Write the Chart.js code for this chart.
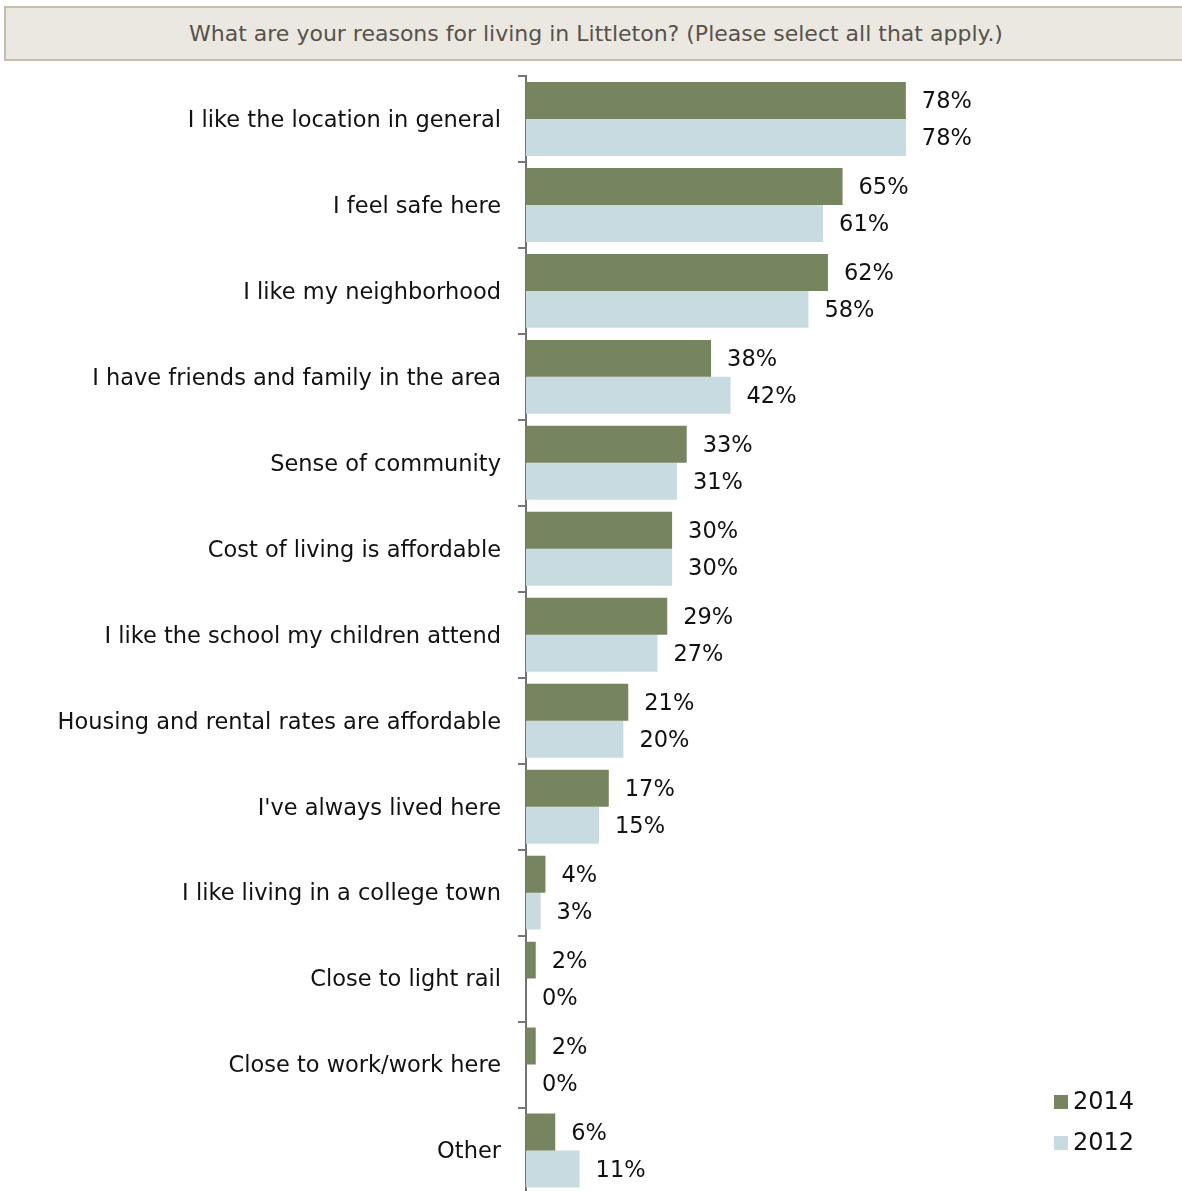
<!DOCTYPE html>
<html>
<head>
<meta charset="utf-8">
<script src="https://cdn.jsdelivr.net/npm/chart.js@4/dist/chart.umd.min.js"></script>
<style>
  html, body { margin: 0; padding: 0; background: #fff; overflow: hidden; }
  body { width: 1182px; height: 1191px; position: relative; }
  #title {
    position: absolute; left: 4px; top: 6px; width: 1180px; height: 51px;
    background: #ebe8e1; border: 2px solid #c6bfae; box-sizing: content-box;
    font-family: "DejaVu Sans", sans-serif; font-size: 22px; color: #57524a;
    line-height: 51px; text-align: center; white-space: nowrap;
  }
  #c { position: absolute; left: 0; top: 0; }
</style>
</head>
<body>
<canvas id="c" width="1182" height="1224"></canvas>
<div id="title">What are your reasons for living in Littleton? (Please select all that apply.)</div>
<script>
const categories = [
  "I like the location in general",
  "I feel safe here",
  "I like my neighborhood",
  "I have friends and family in the area",
  "Sense of community",
  "Cost of living is affordable",
  "I like the school my children attend",
  "Housing and rental rates are affordable",
  "I've always lived here",
  "I like living in a college town",
  "Close to light rail",
  "Close to work/work here",
  "Other"
];
const values2014 = [78, 65, 62, 38, 33, 30, 29, 21, 17, 4, 2, 2, 6];
const values2012 = [78, 61, 58, 42, 31, 30, 27, 20, 15, 3, 0, 0, 11];
const seriesNames = ["2014", "2012"];
const seriesColors = ["#76845f", "#c7dbe1"];

const FONT = '"DejaVu Sans", sans-serif';

// Percent labels just past the end of each bar
const valueLabels = {
  id: 'valueLabels',
  afterDatasetsDraw(chart) {
    const ctx = chart.ctx;
    ctx.save();
    ctx.font = '22.5px ' + FONT;
    ctx.fillStyle = '#111';
    ctx.textBaseline = 'middle';
    ctx.textAlign = 'left';
    chart.data.datasets.forEach((ds, i) => {
      chart.getDatasetMeta(i).data.forEach((bar, j) => {
        ctx.fillText(ds.data[j] + '%', bar.x + 16, bar.y + 2);
      });
    });
    ctx.restore();
  }
};

// Small square-swatch legend in the lower right
const sideLegend = {
  id: 'sideLegend',
  afterDraw(chart) {
    const ctx = chart.ctx;
    ctx.save();
    ctx.font = '24px ' + FONT;
    ctx.textBaseline = 'middle';
    ctx.textAlign = 'left';
    chart.data.datasets.forEach((ds, i) => {
      const y = 1102 + i * 41;
      ctx.fillStyle = ds.backgroundColor;
      ctx.fillRect(1054, y - 7, 14, 14);
      ctx.fillStyle = '#111';
      ctx.fillText(ds.label, 1073, y + 1);
    });
    ctx.restore();
  }
};

new Chart(document.getElementById('c'), {
  type: 'bar',
  data: {
    labels: categories,
    datasets: [
      { label: seriesNames[0], data: values2014, backgroundColor: seriesColors[0] },
      { label: seriesNames[1], data: values2012, backgroundColor: seriesColors[1] }
    ]
  },
  options: {
    indexAxis: 'y',
    responsive: false,
    animation: false,
    layout: { padding: { top: 76, bottom: 6, right: 169, left: 0 } },
    datasets: { bar: { categoryPercentage: 0.86, barPercentage: 1.0 } },
    plugins: { legend: { display: false }, tooltip: { enabled: false } },
    scales: {
      x: {
        display: false,
        min: 0, max: 100
      },
      y: {
        afterFit(scale) { scale.width = 526; },
        grid: {
          display: true, drawOnChartArea: false, offset: true,
          tickLength: 8, color: '#777777', lineWidth: 2
        },
        border: { display: true, color: '#737373', width: 2 },
        ticks: {
          color: '#111', padding: 17, labelOffset: 2,
          font: { family: FONT, size: 22.5 }
        }
      }
    }
  },
  plugins: [valueLabels, sideLegend]
});
</script>
</body>
</html>
